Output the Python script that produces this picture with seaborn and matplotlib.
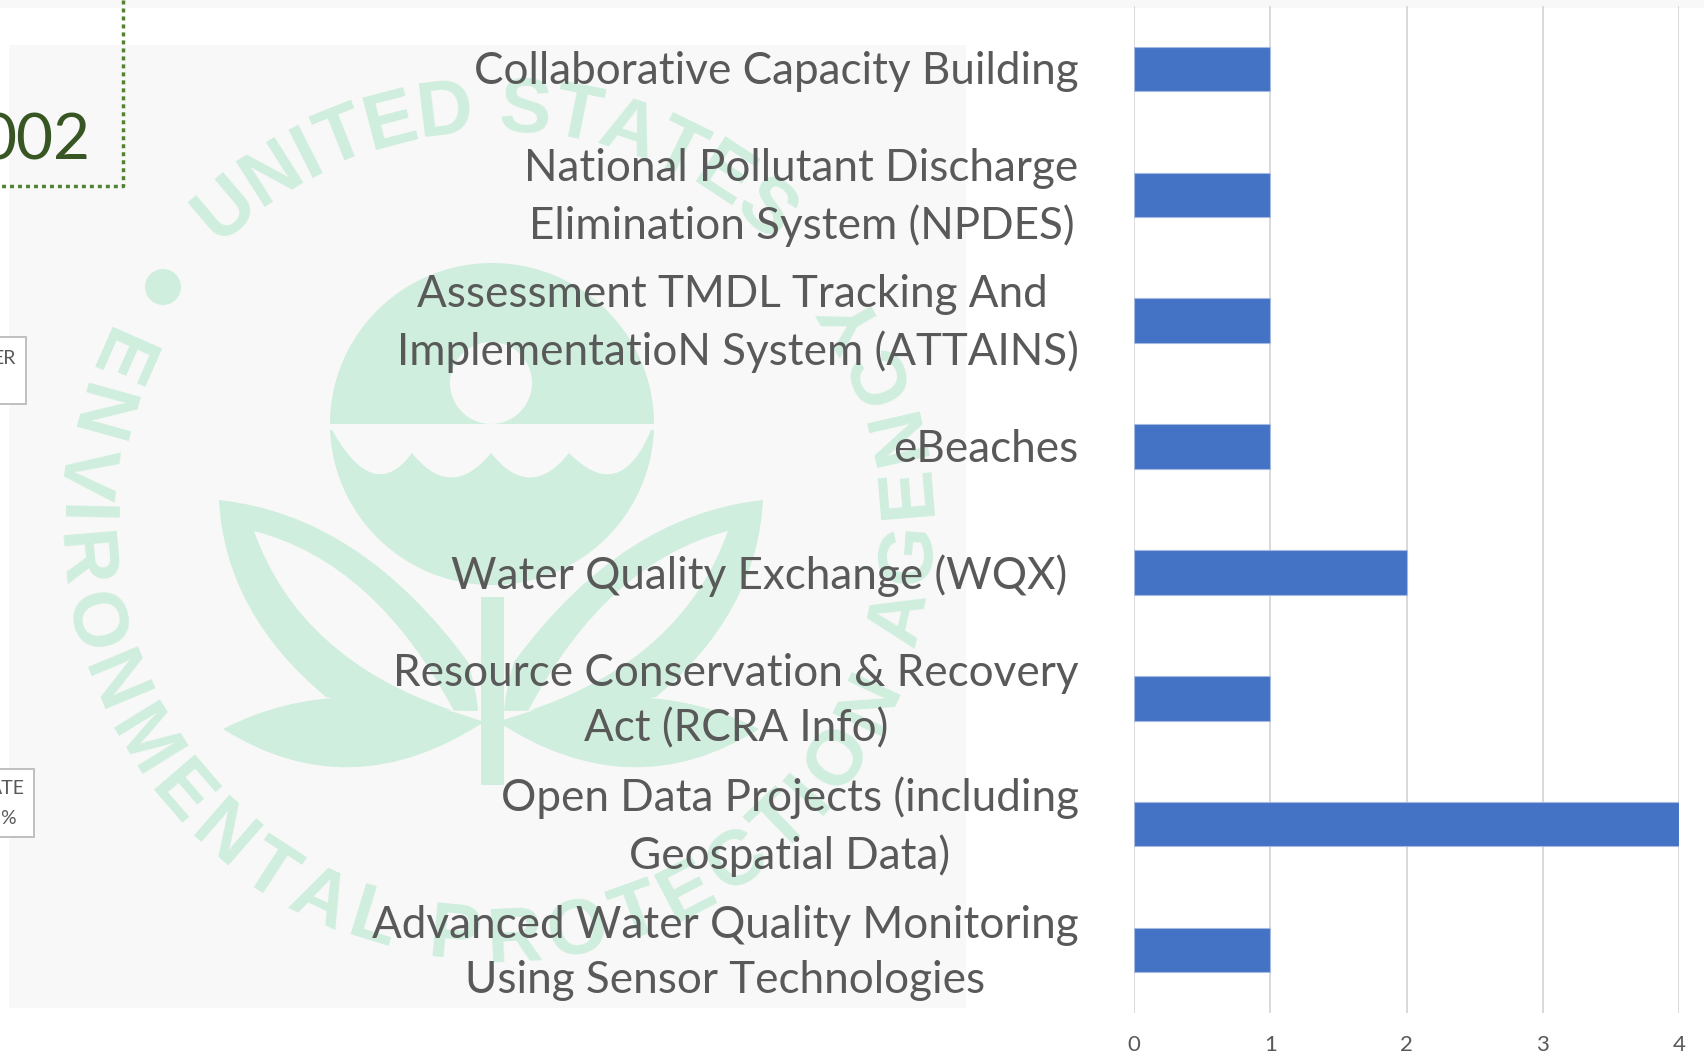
import numpy as np
import pandas as pd
import matplotlib
matplotlib.use("Agg")
import matplotlib.pyplot as plt
import seaborn as sns
from matplotlib.patches import Rectangle, Ellipse, PathPatch
from matplotlib.path import Path
from matplotlib.textpath import TextPath
from matplotlib.transforms import ScaledTranslation
from matplotlib.font_manager import FontProperties

projects = [
    "Collaborative Capacity Building",
    "National Pollutant Discharge\nElimination System (NPDES)",
    "Assessment TMDL Tracking And \nImplementatioN System (ATTAINS)",
    "eBeaches",
    "Water Quality Exchange (WQX) ",
    "Resource Conservation & Recovery\nAct (RCRA Info)",
    "Open Data Projects (including\nGeospatial Data)",
    "Advanced Water Quality Monitoring\nUsing Sensor Technologies",
]
counts = [1, 1, 1, 1, 2, 1, 4, 1]
x_ticks = [0, 1, 2, 3, 4]

W, H = 1704, 1059
GREEN = "#cfeedd"
PANEL = "#f8f8f9"
GREY = "#595959"

sns.set_theme(style="white")
plt.rcParams["font.family"] = ["Lato", "DejaVu Sans"]

fig = plt.figure(figsize=(W / 100, H / 100), dpi=100, facecolor="white")

# page behind the chart, in pixels
bg = fig.add_axes([0, 0, 1, 1])
bg.set_xlim(0, W)
bg.set_ylim(H, 0)
bg.axis("off")

bg.add_patch(Rectangle((0, 0), W, 8, fc="#f8f8f8", ec="none"))
bg.add_patch(Rectangle((9, 45), 957, 963, fc=PANEL, ec="none"))


def blob(top, bottom, **kw):
    # closed shape from two rows of points, top edge and bottom edge
    verts = [top[0]]
    codes = [Path.MOVETO]
    for edge in (top, bottom[::-1]):
        for i in range(1, len(edge), 2):
            verts += [edge[i], edge[i + 1]]
            codes += [Path.CURVE3, Path.CURVE3]
    return PathPatch(Path(verts, codes), ec="none", **kw)


def mirror(pts):
    return [(982 - x, y) for x, y in pts]


def leaves(flip):
    f = mirror if flip else (lambda p: p)
    # upper leaf
    bg.add_patch(blob(f([(219, 500), (360, 515), (468, 662), (476, 688), (478, 711)]),
                      f([(219, 500), (225, 613), (326, 697), (400, 711), (478, 711)]),
                      fc=GREEN))
    bg.add_patch(blob(f([(254, 531), (375, 562), (454, 711)]),
                      f([(254, 531), (300, 660), (454, 711)]),
                      fc=PANEL))
    # lower leaf
    bg.add_patch(blob(f([(223, 729), (340, 669), (484, 722)]),
                      f([(223, 729), (350, 809), (484, 758)]),
                      fc=GREEN))


# seal
leaves(False)
leaves(True)
bg.add_patch(Rectangle((481, 597), 23, 188, fc=GREEN, ec="none"))
body = Ellipse((492, 424), 324, 322, fc=GREEN, ec="none")
bg.add_patch(body)
sun = Ellipse((491, 383), 82, 82, fc=PANEL, ec="none")
bg.add_patch(sun)
sun.set_clip_path(Rectangle((400, 300), 180, 124, transform=bg.transData))
wave_v = [(320, 424), (664, 424), (664, 430), (651, 430), (620, 505), (569, 453), (530, 502), (491, 453),
          (451, 502), (412, 453), (374, 505), (332, 430), (320, 430), (320, 424)]
wave_c = [Path.MOVETO, Path.LINETO, Path.LINETO, Path.LINETO,
          Path.CURVE3, Path.CURVE3, Path.CURVE3, Path.CURVE3,
          Path.CURVE3, Path.CURVE3, Path.CURVE3, Path.CURVE3,
          Path.LINETO, Path.CLOSEPOLY]
wave = PathPatch(Path(wave_v, wave_c), fc=PANEL, ec="none")
bg.add_patch(wave)
wave.set_clip_path(body)
bg.add_patch(Ellipse((163, 287), 36, 36, fc=GREEN, ec="none"))

# ring lettering
ring_font = FontProperties(family="Liberation Sans", weight="bold", size=56)
CX, CY, R = 495, 525, 415


def arc_text(txt, mid, clockwise, track):
    px = 100 / 72
    hh = TextPath((0, 0), "HH", prop=ring_font).get_extents().width
    widths = []
    for c in txt:
        tp = TextPath((0, 0), "H" + c + "H", prop=ring_font)
        widths.append((tp.get_extents().width - hh) * px + track)
    total = sum(widths)
    pos = -total / 2
    for c, w in zip(txt, widths):
        ang = (pos + w / 2) / R * 180 / np.pi
        th = mid + ang if clockwise else mid - ang
        pos += w
        if c == " ":
            continue
        t = np.radians(th)
        rot = -th if clockwise else 180 - th
        bg.text(CX + R * np.sin(t), CY - R * np.cos(t), c, color=GREEN, fontproperties=ring_font,
                rotation=rot, rotation_mode="anchor", ha="center", va="center")


arc_text("UNITED STATES", 0, True, 2)
arc_text("ENVIRONMENTAL PROTECTION AGENCY", 177, False, 6)

# cut off pieces of the slide, left edge
bg.plot([122.5, 122.5, 0], [0, 185.5, 185.5], color="#548235", lw=2.5, ls=(0, (1.15, 1.15)), dash_capstyle="butt")
bg.text(90, 142, "002", color="#375623", fontsize=46, ha="right", va="center")
bg.add_patch(Rectangle((-5, 337), 30.5, 67, fc="white", ec="#bfbfbf", lw=1.4))
bg.text(16, 358, "ER", color=GREY, fontsize=14, ha="right", va="center")
bg.add_patch(Rectangle((-5, 769), 39, 68, fc="white", ec="#bfbfbf", lw=1.4))
bg.text(25, 788, "ATE", color=GREY, fontsize=14, ha="right", va="center")
bg.text(16, 818, "%", color=GREY, fontsize=14, ha="right", va="center")

# the chart itself
df = pd.DataFrame({"project": projects, "count": counts})
ax = fig.add_axes([1134.2 / W, 1 - 1013 / H, (1678.9 - 1134.2) / W, (1013 - 6) / H])
ax.patch.set_alpha(0)
sns.barplot(data=df, x="count", y="project", orient="h", color="#4472c4", saturation=1,
            width=0.353, edgecolor="#a5b9e2", linewidth=0.8, ax=ax, zorder=3)
ax.set_xlim(0, 4)
ax.set_xticks(x_ticks)
ax.set_xlabel("")
ax.set_ylabel("")
sns.despine(ax=ax, top=True, right=True, bottom=True, left=True)
ax.grid(axis="x", color="#d9d9d9", lw=1.4)
ax.grid(axis="y", visible=False)
ax.set_axisbelow(True)
ax.tick_params(axis="x", length=0, pad=16, labelsize=16, labelcolor=GREY)
ax.tick_params(axis="y", length=0, pad=40, labelsize=31.7, labelcolor=GREY)
nudge = ScaledTranslation(0, -2 / 72, fig.dpi_scale_trans)
for lab in ax.get_yticklabels():
    lab.set_multialignment("center")
    lab.set_linespacing(1.44)
    lab.set_verticalalignment("center")
    lab.set_transform(lab.get_transform() + nudge)

fig.savefig("out.png", dpi=100)
